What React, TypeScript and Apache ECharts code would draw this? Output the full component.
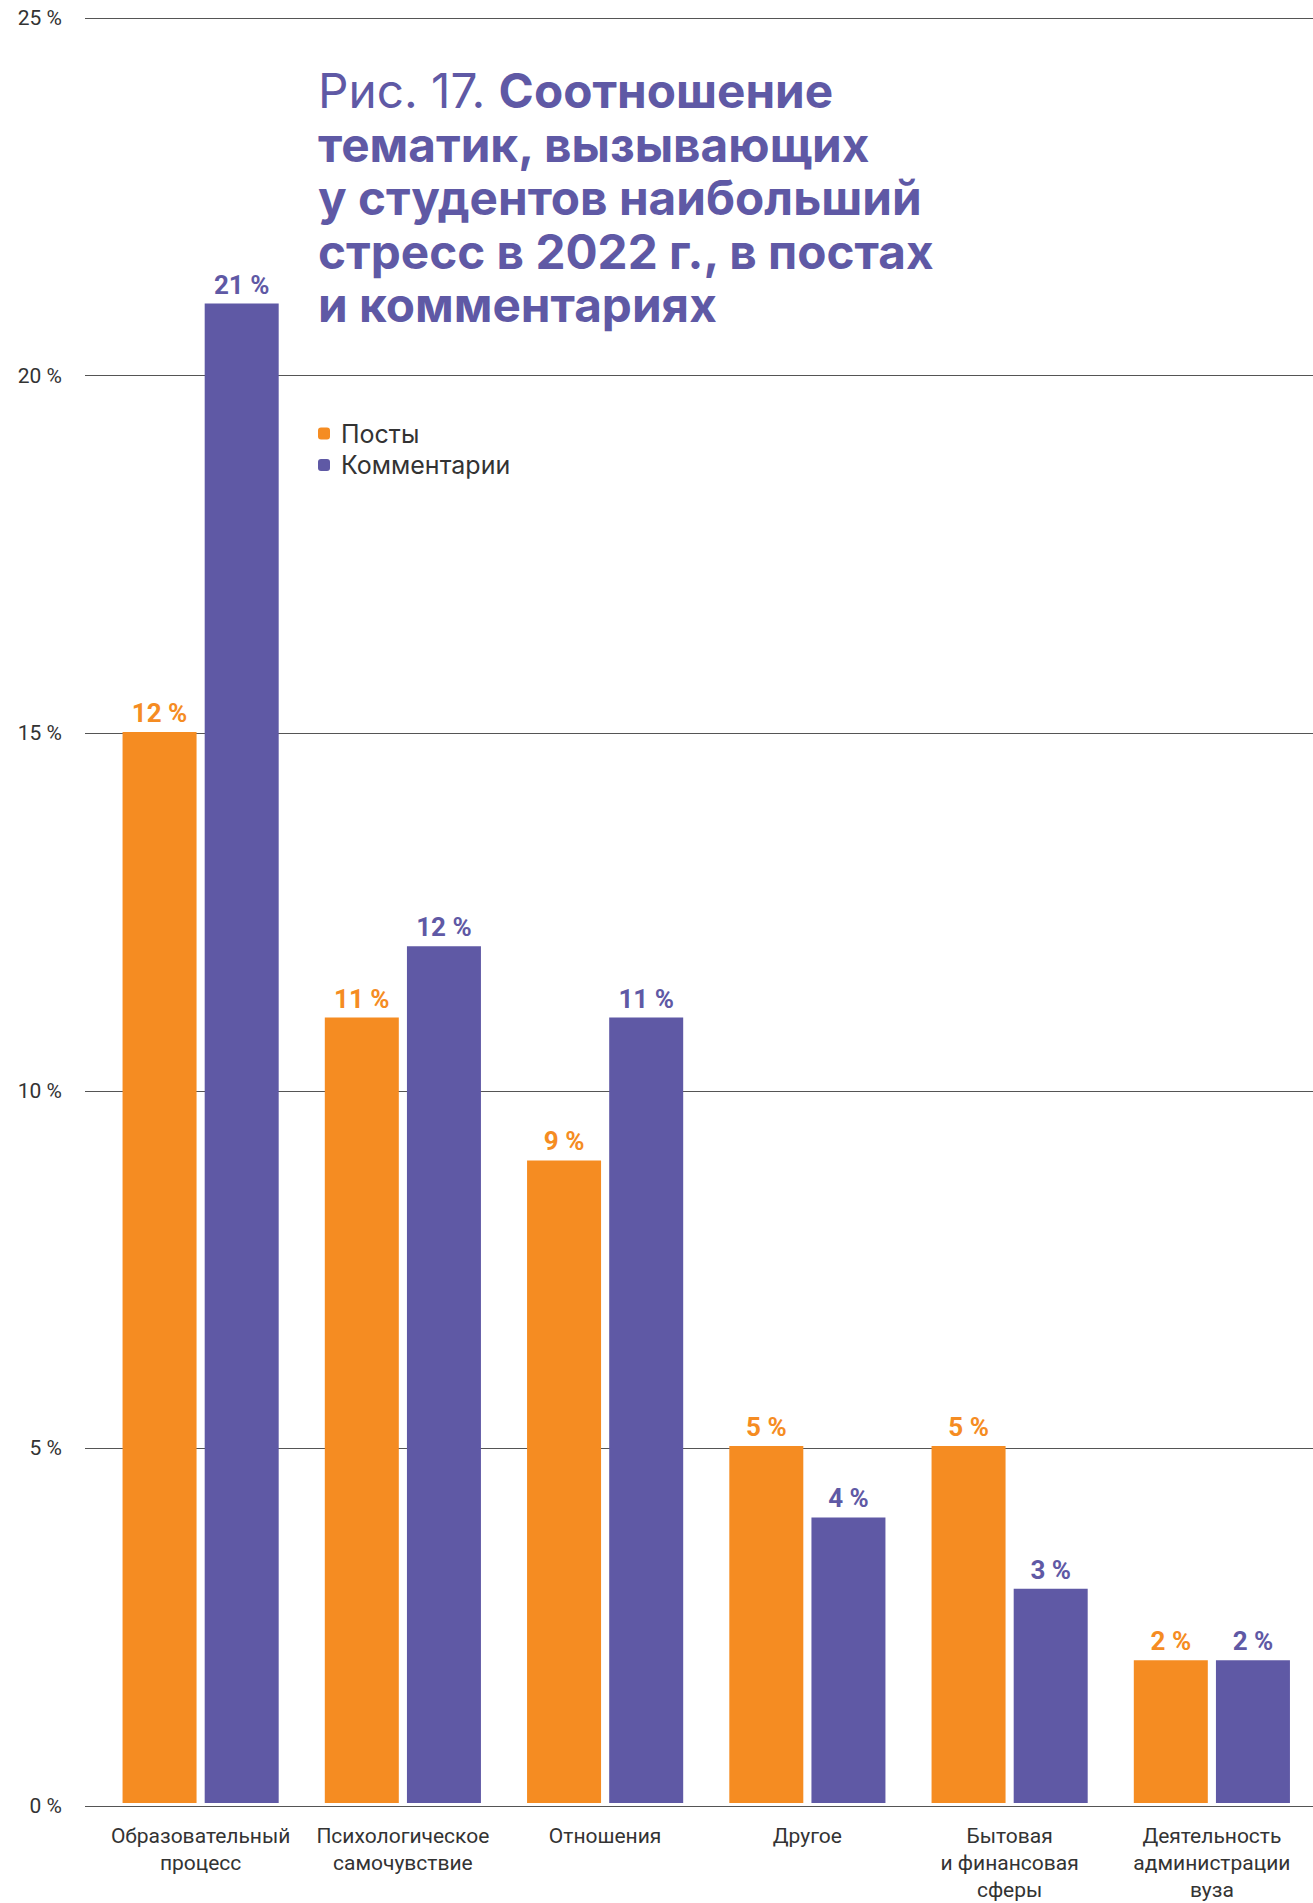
import React, { useEffect, useRef } from "react";
import * as echarts from "echarts";

const categories = [
  "Образовательный\nпроцесс",
  "Психологическое\nсамочувствие",
  "Отношения",
  "Другое",
  "Бытовая\nи финансовая\nсферы",
  "Деятельность\nадминистрации\nвуза",
];
const seriesNames = ["Посты", "Комментарии"];
// bar heights as drawn in the reference
const postsValues = [15, 11, 9, 5, 5, 2];
const commentsValues = [21, 12, 11, 4, 3, 2];
// printed value labels
const postsLabels = ["12 %", "11 %", "9 %", "5 %", "5 %", "2 %"];
const commentsLabels = ["21 %", "12 %", "11 %", "4 %", "3 %", "2 %"];
const yTicks = { min: 0, max: 25, interval: 5 };

const ORANGE = "#F58C22";
const PURPLE = "#5F59A5";
const FONT = "Roboto, 'Noto Sans', sans-serif";
const FONT_WIDE = "Inter, Roboto, sans-serif";

export default function App() {
  const ref = useRef<HTMLDivElement>(null);
  useEffect(() => {
    if (!ref.current) return;
    const chart = echarts.init(ref.current, null, { renderer: "svg" });
    const top = 18;
    const bottom = 97;
    const valueLabel = (labels: string[], color: string) => ({
      show: true,
      position: "top",
      distance: 6,
      formatter: (p: any) => labels[p.dataIndex],
      color,
      fontSize: 26,
      fontWeight: "bold",
      fontFamily: FONT,
    });
    chart.setOption({
      animation: false,
      backgroundColor: "#ffffff",
      textStyle: { fontFamily: FONT },
      grid: [
        { left: 85, right: 0, top, bottom },
        { left: 99.5, right: -4, top, bottom },
      ],
      xAxis: [
        { type: "category", gridIndex: 0, data: categories, show: false },
        {
          type: "category",
          gridIndex: 1,
          data: categories,
          axisLine: { show: false },
          axisTick: { show: false },
          axisLabel: {
            interval: 0,
            margin: 19,
            fontSize: 21,
            lineHeight: 27,
            color: "#333333",
            fontFamily: FONT,
            align: "center",
          },
        },
      ],
      yAxis: [
        {
          type: "value",
          gridIndex: 0,
          min: yTicks.min,
          max: yTicks.max,
          interval: yTicks.interval,
          axisLine: { show: false },
          axisTick: { show: false },
          axisLabel: {
            formatter: "{value} %",
            margin: 23,
            fontSize: 21,
            color: "#333333",
            fontFamily: FONT,
          },
          splitLine: { show: true, lineStyle: { color: "#555555", width: 1 } },
        },
        {
          type: "value",
          gridIndex: 1,
          min: yTicks.min,
          max: yTicks.max,
          interval: yTicks.interval,
          show: false,
          splitLine: { show: false },
        },
      ],
      legend: {
        orient: "vertical",
        left: 318,
        top: 421,
        padding: 0,
        itemWidth: 12,
        itemHeight: 12,
        itemGap: 6.5,
        icon: "roundRect",
        data: seriesNames,
        textStyle: {
          fontSize: 25,
          color: "#333333",
          fontFamily: FONT_WIDE,
          padding: [0, 0, 0, 6],
        },
      },
      graphic: [
        {
          type: "text",
          left: 318,
          top: 64.5,
          style: {
            text:
              "{a|Рис. 17. }{b|Соотношение}\n{b|тематик, вызывающих}\n{b|у студентов наибольший}\n{b|стресс в 2022 г., в постах}\n{b|и комментариях}",
            fill: PURPLE,
            fontFamily: FONT_WIDE,
            fontSize: 47.7,
            lineHeight: 53.5,
            rich: {
              a: {
                fontSize: 47.7,
                fontWeight: "normal",
                lineHeight: 53.5,
                fill: PURPLE,
                fontFamily: FONT_WIDE,
              },
              b: {
                fontSize: 47.7,
                fontWeight: "bold",
                lineHeight: 53.5,
                fill: PURPLE,
                fontFamily: FONT_WIDE,
              },
            },
          },
        },
      ],
      series: [
        {
          name: seriesNames[0],
          type: "bar",
          xAxisIndex: 1,
          yAxisIndex: 1,
          data: postsValues,
          barWidth: 74,
          barGap: "11%",
          itemStyle: { color: ORANGE },
          label: valueLabel(postsLabels, ORANGE),
        },
        {
          name: seriesNames[1],
          type: "bar",
          xAxisIndex: 1,
          yAxisIndex: 1,
          data: commentsValues,
          barWidth: 74,
          barGap: "11%",
          itemStyle: { color: PURPLE },
          label: valueLabel(commentsLabels, PURPLE),
        },
      ],
    });
    return () => chart.dispose();
  }, []);
  return (
    <div
      ref={ref}
      style={{ position: "absolute", left: 0, top: 0, width: 1313, height: 1903 }}
    />
  );
}
